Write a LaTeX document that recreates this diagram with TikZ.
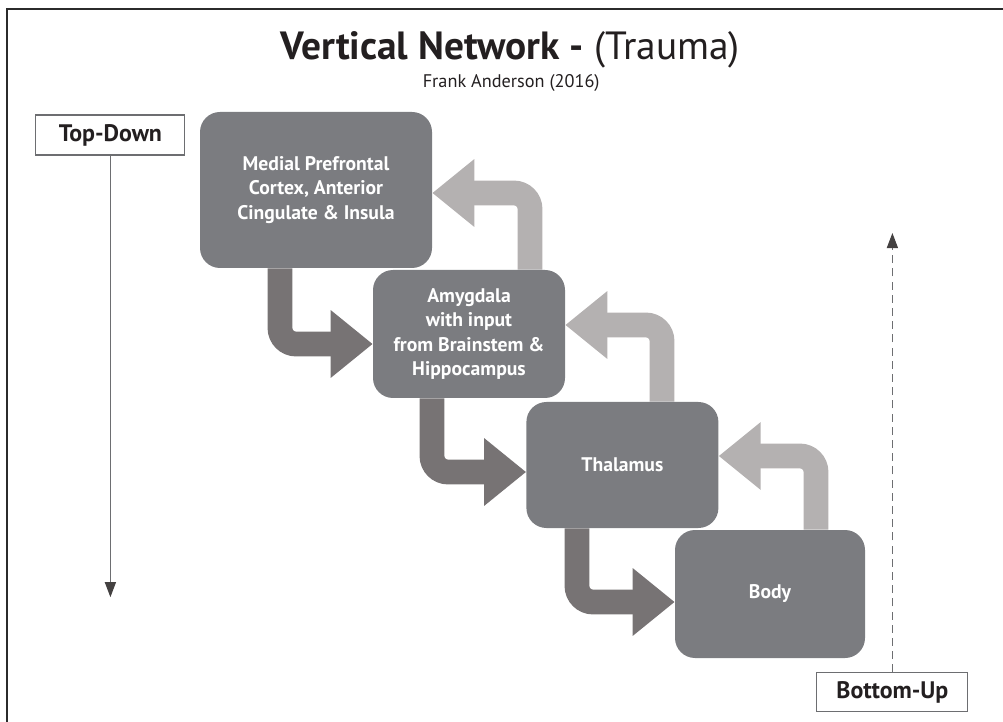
\documentclass[tikz,border=0pt]{standalone}
\usepackage{fontspec}
\setmainfont{PT Sans}
\usetikzlibrary{arrows.meta,positioning,calc,backgrounds}
\definecolor{ink}{HTML}{231F20}
\definecolor{boxgray}{HTML}{7B7C80}
\definecolor{downarr}{HTML}{777374}
\definecolor{uparr}{HTML}{B4B1B1}
\definecolor{guide}{HTML}{6D6E71}
\definecolor{edge}{HTML}{2B2B2B}

\begin{document}
\begin{tikzpicture}[
    every node/.style={text=ink},
    region/.style={fill=boxgray, rounded corners=0.5cm,
        minimum width=4.8cm, minimum height=3.2cm, align=center,
        text=white, font=\fontsize{14}{17.5}\selectfont\bfseries},
    sidebox/.style={draw=guide, fill=white, line width=0.8pt,
        minimum height=1cm, font=\fontsize{17}{20}\selectfont\bfseries},
    downflow/.style={draw=downarr, line width=0.62cm, rounded corners=0.4cm,
        -{Triangle[length=1.05cm, width=1.625cm]}},
    upflow/.style={downflow, draw=uparr},
    guideline/.style={draw=guide, line width=0.8pt,
        -{Triangle[length=0.38cm, width=0.28cm, color=ink!85]}},
]
\useasboundingbox (0,0) rectangle (25.075,-18.05);

% Frame
\draw[edge, line width=1.4pt] (0.175,-18.05) -- (0.175,-0.225) -- (25.075,-0.225);

% Title
\node[font=\fontsize{28}{32}\selectfont, anchor=base] (title) at (12.75,-1.5)
    {\textbf{Vertical Network -} (Trauma)};
\node[font=\fontsize{13}{15}\selectfont, anchor=base] (credit) at (12.78,-2.2)
    {Frank Anderson (2016)};

% Regions
\node[region, minimum width=5.8cm, minimum height=3.9cm] (mpfc) at (7.9,-4.75)
    {Medial Prefrontal\\Cortex, Anterior\\Cingulate \& Insula};
\node[region] (amyg) at (11.725,-8.35)
    {Amygdala\\with input\\from Brainstem \&\\Hippocampus};
\node[region, minimum height=3.15cm] (thal) at (15.56,-11.625) {Thalamus};
\node[region, minimum width=4.75cm] (body) at (19.25,-14.85) {Body};

% Side labels
\node[sidebox, minimum width=3.725cm] (topdown) at (2.76,-3.375) {Top-Down};
\node[sidebox, minimum width=3.775cm, minimum height=0.975cm] (bottomup) at (22.31,-17.31) {Bottom-Up};

\coordinate (tdend) at (2.76,-14.93);
\coordinate (buend) at (22.3,-5.825);
\draw[guideline] (topdown.south) -- (topdown.south |- tdend);
\draw[guideline, dash pattern=on 0.2cm off 0.13cm] (bottomup.north) -- (bottomup.north |- buend);

% Flow arrows
\begin{scope}[on background layer]
\draw[downflow] (mpfc.south -| 7.0,0) |- ($(amyg.west)+(0,-0.25)$);
\draw[downflow] (amyg.south -| 10.8,0) |- ($(thal.west)+(0,-0.175)$);
\draw[downflow] (thal.south -| 14.425,0) |- ($(body.west)+(0,-0.2)$);

\draw[upflow] (amyg.north -| 13.25,0) |- ($(mpfc.east)+(0,-0.075)$);
\draw[upflow] (thal.north -| 16.55,0) |- ($(amyg.east)+(0,0.225)$);
\draw[upflow] (body.north -| 20.4,0) |- ($(thal.east)+(0,0.225)$);
\end{scope}

\end{tikzpicture}
\end{document}
